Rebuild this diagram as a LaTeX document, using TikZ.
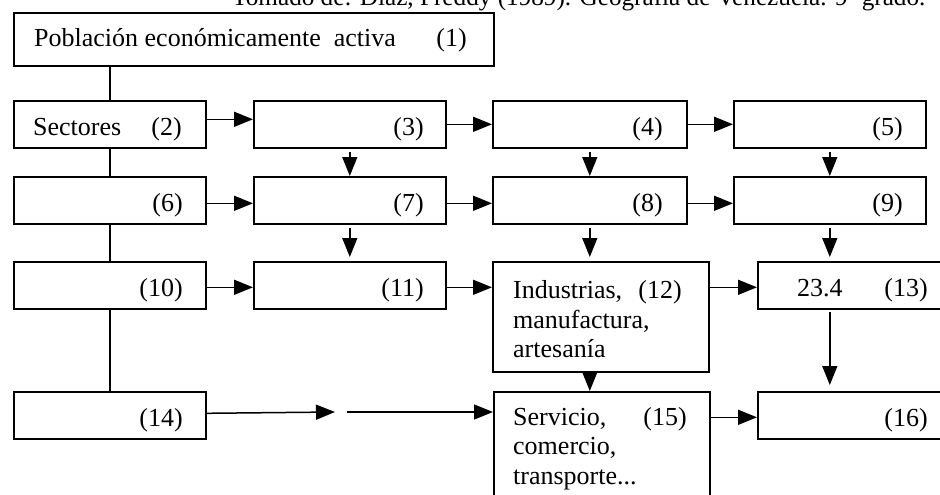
\documentclass[tikz,border=0pt]{standalone}
\usepackage{fontspec}
\setmainfont{Liberation Serif}
\usetikzlibrary{arrows.meta}
\begin{document}
\begin{tikzpicture}[x=1pt,y=-1pt,
  box/.style={draw, line width=1.6pt, rectangle, inner sep=0pt, anchor=north west},
  lbl/.style={inner sep=0pt, font=\fontsize{26}{30}\selectfont},
  lblR/.style={lbl, anchor=base east},
  lblL/.style={lbl, anchor=base west},
  arr/.style={line width=1.5pt, -{Triangle[length=19pt,width=15pt]}},
  ln/.style={line width=1.6pt}]
\useasboundingbox (0,0) rectangle (940,495);
% citation (cut off at top)
\node[lblL, font=\fontsize{25.2}{30}\selectfont] (cit) at (232,6) {Tomado de: Díaz, Freddy (1989). Geografía de Venezuela. 9º grado.};
% row 1
\node[box, minimum width=480pt, minimum height=53pt] (b1) at (13,12) {};
\node[lblL] (t1) at (34,47) {Población económicamente\ \ activa};
\node[lblR] (n1) at (467,47) {(1)};
% row 2
\node[box, minimum width=192pt, minimum height=47pt] (b2) at (13,100) {};
\node[box, minimum width=192pt, minimum height=47pt] (b3) at (253,100) {};
\node[box, minimum width=194pt, minimum height=47pt] (b4) at (492,100) {};
\node[box, minimum width=192pt, minimum height=47pt] (b5) at (733,100) {};
\node[lblL] (t2) at (33,135) {Sectores};
\node[lblR] (n2) at (182,135) {(2)};
\node[lblR] (n3) at (424,135) {(3)};
\node[lblR] (n4) at (663,135) {(4)};
\node[lblR] (n5) at (903,135) {(5)};
% row 3
\node[box, minimum width=192pt, minimum height=47pt] (b6) at (13,176) {};
\node[box, minimum width=192pt, minimum height=47pt] (b7) at (253,176) {};
\node[box, minimum width=194pt, minimum height=47pt] (b8) at (492,176) {};
\node[box, minimum width=192pt, minimum height=47pt] (b9) at (733,176) {};
\node[lblR] (n6) at (183,211) {(6)};
\node[lblR] (n7) at (424,211) {(7)};
\node[lblR] (n8) at (663,211) {(8)};
\node[lblR] (n9) at (903,211) {(9)};
% row 4
\node[box, minimum width=192pt, minimum height=47pt] (b10) at (13,261) {};
\node[box, minimum width=192pt, minimum height=47pt] (b11) at (253,261) {};
\node[box, minimum width=216pt, minimum height=110pt] (b12) at (492,261) {};
\node[box, minimum width=210pt, minimum height=47pt] (b13) at (757,261) {};
\node[lblR] (n10) at (183,296) {(10)};
\node[lblR] (n11) at (424,296) {(11)};
\node[lblL] (t12a) at (513,298) {Industrias,};
\node[lblR] (n12) at (682,298) {(12)};
\node[lblL] (t12b) at (513,328) {manufactura,};
\node[lblL] (t12c) at (513,357) {artesanía};
\node[lblL] (t13) at (797,296) {23.4};
\node[lblR] (n13) at (928,296) {(13)};
% row 5
\node[box, minimum width=192pt, minimum height=47pt] (b14) at (13,391) {};
\node[box, minimum width=216pt, minimum height=130pt] (b15) at (493,391) {};
\node[box, minimum width=210pt, minimum height=47pt] (b16) at (757,391) {};
\node[lblR] (n14) at (183,426) {(14)};
\node[lblL] (t15a) at (513,425) {Servicio,};
\node[lblR] (n15) at (687,425) {(15)};
\node[lblL] (t15b) at (513,454) {comercio,};
\node[lblL] (t15c) at (513,484) {transporte...};
\node[lblR] (n16) at (928,426) {(16)};
% trunk
\draw[ln] (b2.north |- b1.south) -- (b2.north);
\draw[ln] (b2.south) -- (b6.north);
\draw[ln] (b6.south) -- (b10.north);
\draw[ln] (b10.south) -- (b14.north);
% horizontal arrows
\draw[arr] ([yshift=5pt]b2.east) -- ([yshift=5pt]b3.west);
\draw[arr] (b3.east) -- (b4.west);
\draw[arr] (b4.east) -- (b5.west);
\draw[arr] ([yshift=-3pt]b6.east) -- ([yshift=-3pt]b7.west);
\draw[arr] ([yshift=-3pt]b7.east) -- ([yshift=-3pt]b8.west);
\draw[arr] ([yshift=-3pt]b8.east) -- ([yshift=-3pt]b9.west);
\draw[arr] ([yshift=-2pt]b10.east) -- ([yshift=-2pt]b11.west);
\draw[arr] ([yshift=-2pt]b11.east) -- ([yshift=-2pt]b11.east -| b12.west);
\draw[arr] ([yshift=-2pt]b13.west -| b12.east) -- ([yshift=-2pt]b13.west);
\coordinate (g1) at (335,412);
\coordinate (g2) at (347,412);
\draw[arr] ([yshift=2pt]b14.east) -- (g1);
\draw[arr] (g2) -- (g2 -| b15.west);
\draw[arr] ([yshift=-2pt]b16.west -| b15.east) -- ([yshift=-2pt]b16.west);
% vertical arrows
\draw[arr, shorten <=3pt] (b3.south) -- (b7.north);
\draw[arr, shorten <=3pt] (b4.south) -- (b8.north);
\draw[arr, shorten <=3pt] (b5.south) -- (b9.north);
\draw[arr, shorten <=3pt, shorten >=4pt] (b7.south) -- (b11.north);
\draw[arr, shorten <=3pt, shorten >=4pt] (b8.south) -- (b8.south |- b12.north);
\draw[arr, shorten <=3pt, shorten >=4pt] (b9.south) -- (b9.south |- b13.north);
\draw[arr] (b8.south |- b12.south) -- (b8.south |- b15.north);
\draw[arr, shorten <=2pt, shorten >=6pt] (b9.south |- b13.south) -- (b9.south |- b16.north);
\end{tikzpicture}
\end{document}
